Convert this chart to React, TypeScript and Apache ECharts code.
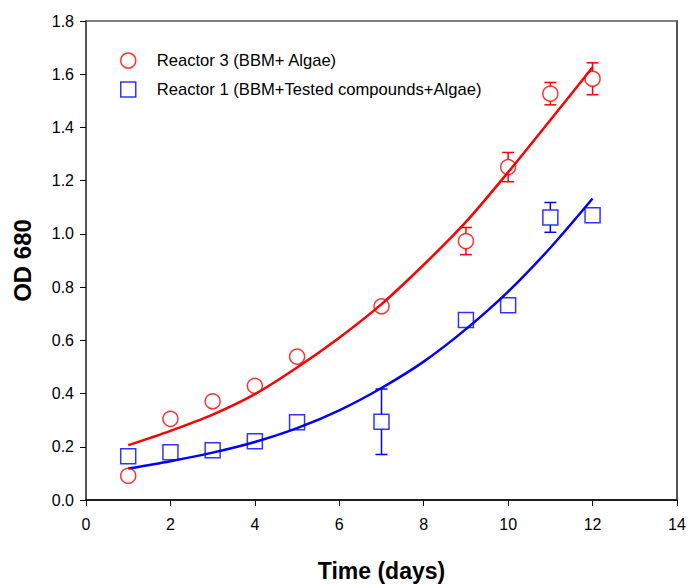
import React, { useEffect, useRef } from "react";
import * as echarts from "echarts";

// ---- Data ----
const days = [1, 2, 3, 4, 5, 7, 9, 10, 11, 12];
const reactor3 = [0.091, 0.305, 0.371, 0.429, 0.539, 0.728, 0.973, 1.251, 1.527, 1.583];
const reactor3Err = [0, 0, 0, 0, 0, 0, 0.051, 0.055, 0.042, 0.06];
const reactor1 = [0.164, 0.179, 0.187, 0.221, 0.292, 0.294, 0.676, 0.732, 1.062, 1.07];
const reactor1Err = [0, 0, 0, 0, 0, 0.123, 0, 0, 0.056, 0];

// fitted curves
const fitDays = [1, 2, 3, 4, 5, 6, 7, 8, 9, 10, 11, 12];
const reactor3Fit = [0.206, 0.26, 0.321, 0.398, 0.498, 0.61, 0.736, 0.884, 1.045, 1.232, 1.428, 1.626];
const reactor1Fit = [0.118, 0.146, 0.178, 0.218, 0.27, 0.337, 0.421, 0.52, 0.642, 0.783, 0.948, 1.133];

const xTicks = { min: 0, max: 14, interval: 2 };
const yTicks = { min: 0, max: 1.8, interval: 0.2 };

const name3 = "Reactor 3 (BBM+ Algae)";
const name1 = "Reactor 1 (BBM+Tested compounds+Algae)";
const RED = "#ff0000";
const BLUE = "#0000ff";
const FONT = "'Liberation Sans', Arial, sans-serif";

function errData(vals: number[], errs: number[]) {
  const out: number[][] = [];
  days.forEach((d, i) => {
    if (errs[i] > 0) out.push([d, vals[i], vals[i] - errs[i], vals[i] + errs[i]]);
  });
  return out;
}

function errSeries(name: string, data: number[][], color: string) {
  return {
    type: "custom",
    name: name + " err",
    data,
    z: 3,
    encode: { x: 0, y: [1, 2, 3] },
    renderItem: (_params: any, api: any) => {
      const x = api.value(0);
      const c = api.coord([x, api.value(1)]);
      const lo = api.coord([x, api.value(2)]);
      const hi = api.coord([x, api.value(3)]);
      const r = 7.5;
      const w = 6;
      const st = { stroke: color, lineWidth: 1.5 };
      const children: any[] = [];
      if (hi[1] < c[1] - r) {
        children.push({ type: "line", shape: { x1: c[0], y1: c[1] - r, x2: hi[0], y2: hi[1] }, style: st });
      }
      children.push({ type: "line", shape: { x1: hi[0] - w, y1: hi[1], x2: hi[0] + w, y2: hi[1] }, style: st });
      if (lo[1] > c[1] + r) {
        children.push({ type: "line", shape: { x1: c[0], y1: c[1] + r, x2: lo[0], y2: lo[1] }, style: st });
      }
      children.push({ type: "line", shape: { x1: lo[0] - w, y1: lo[1], x2: lo[0] + w, y2: lo[1] }, style: st });
      return { type: "group", children };
    },
  };
}

export default function App() {
  const ref = useRef<HTMLDivElement>(null);
  useEffect(() => {
    if (!ref.current) return;
    const chart = echarts.init(ref.current, undefined, { renderer: "svg" });
    const axisLabel = { color: "#000", fontSize: 16, fontFamily: FONT };
    chart.setOption({
      animation: false,
      backgroundColor: "#fff",
      grid: {
        left: 86,
        top: 21,
        right: 12,
        bottom: 84,
        show: true,
        borderColor: "#000",
        borderWidth: 1,
        backgroundColor: "transparent",
      },
      legend: {
        orient: "vertical",
        left: 115,
        top: 47,
        itemWidth: 15,
        itemHeight: 15,
        itemGap: 12,
        textStyle: { color: "#000", fontSize: 16.6, fontFamily: FONT, padding: [0, 0, 0, 16] },
        data: [
          { name: name3, icon: "circle", itemStyle: { color: "transparent", borderColor: RED, borderWidth: 1.5 } },
          { name: name1, icon: "rect", itemStyle: { color: "transparent", borderColor: BLUE, borderWidth: 1.5 } },
        ],
      },
      xAxis: {
        type: "value",
        ...xTicks,
        name: "Time (days)",
        nameLocation: "middle",
        nameGap: 59,
        nameTextStyle: { color: "#000", fontSize: 23, fontWeight: "bold", fontFamily: FONT },
        axisLine: { show: true, lineStyle: { color: "#000", width: 1.5 } },
        axisTick: { show: true, inside: false, length: 6, lineStyle: { color: "#000", width: 1 } },
        axisLabel: { ...axisLabel, margin: 16 },
        splitLine: { show: false },
      },
      yAxis: [
        {
          type: "value",
          ...yTicks,
          name: "OD 680",
          nameLocation: "middle",
          nameGap: 52,
          nameRotate: 90,
          nameTextStyle: { color: "#000", fontSize: 24, fontWeight: "bold", fontFamily: FONT },
          axisLine: { show: true, lineStyle: { color: "#555", width: 2 } },
          axisTick: { show: true, inside: false, length: 6, lineStyle: { color: "#000", width: 1 } },
          axisLabel: { ...axisLabel, margin: 12, formatter: (v: number) => v.toFixed(1) },
          splitLine: { show: false },
        },
        {
          type: "value",
          ...yTicks,
          position: "right",
          axisLine: { show: true, lineStyle: { color: "#555", width: 2 } },
          axisTick: { show: false },
          axisLabel: { show: false },
          splitLine: { show: false },
        },
      ],
      series: [
        {
          type: "line",
          name: name3 + " fit",
          data: fitDays.map((d, i) => [d, reactor3Fit[i]]),
          smooth: 0.3,
          showSymbol: false,
          lineStyle: { color: RED, width: 2.5 },
          z: 2,
        },
        {
          type: "line",
          name: name1 + " fit",
          data: fitDays.map((d, i) => [d, reactor1Fit[i]]),
          smooth: 0.3,
          showSymbol: false,
          lineStyle: { color: BLUE, width: 2.5 },
          z: 2,
        },
        errSeries(name3, errData(reactor3, reactor3Err), RED),
        errSeries(name1, errData(reactor1, reactor1Err), BLUE),
        {
          type: "scatter",
          name: name3,
          data: days.map((d, i) => [d, reactor3[i]]),
          symbol: "circle",
          symbolSize: 15,
          itemStyle: { color: "transparent", borderColor: RED, borderWidth: 1.5 },
          z: 4,
        },
        {
          type: "scatter",
          name: name1,
          data: days.map((d, i) => [d, reactor1[i]]),
          symbol: "rect",
          symbolSize: 15,
          itemStyle: { color: "transparent", borderColor: BLUE, borderWidth: 1.5 },
          z: 4,
        },
      ],
    });
    return () => chart.dispose();
  }, []);
  return (
    <div
      ref={ref}
      style={{ position: "fixed", left: 0, top: 0, width: 689, height: 587, background: "#fff" }}
    />
  );
}
